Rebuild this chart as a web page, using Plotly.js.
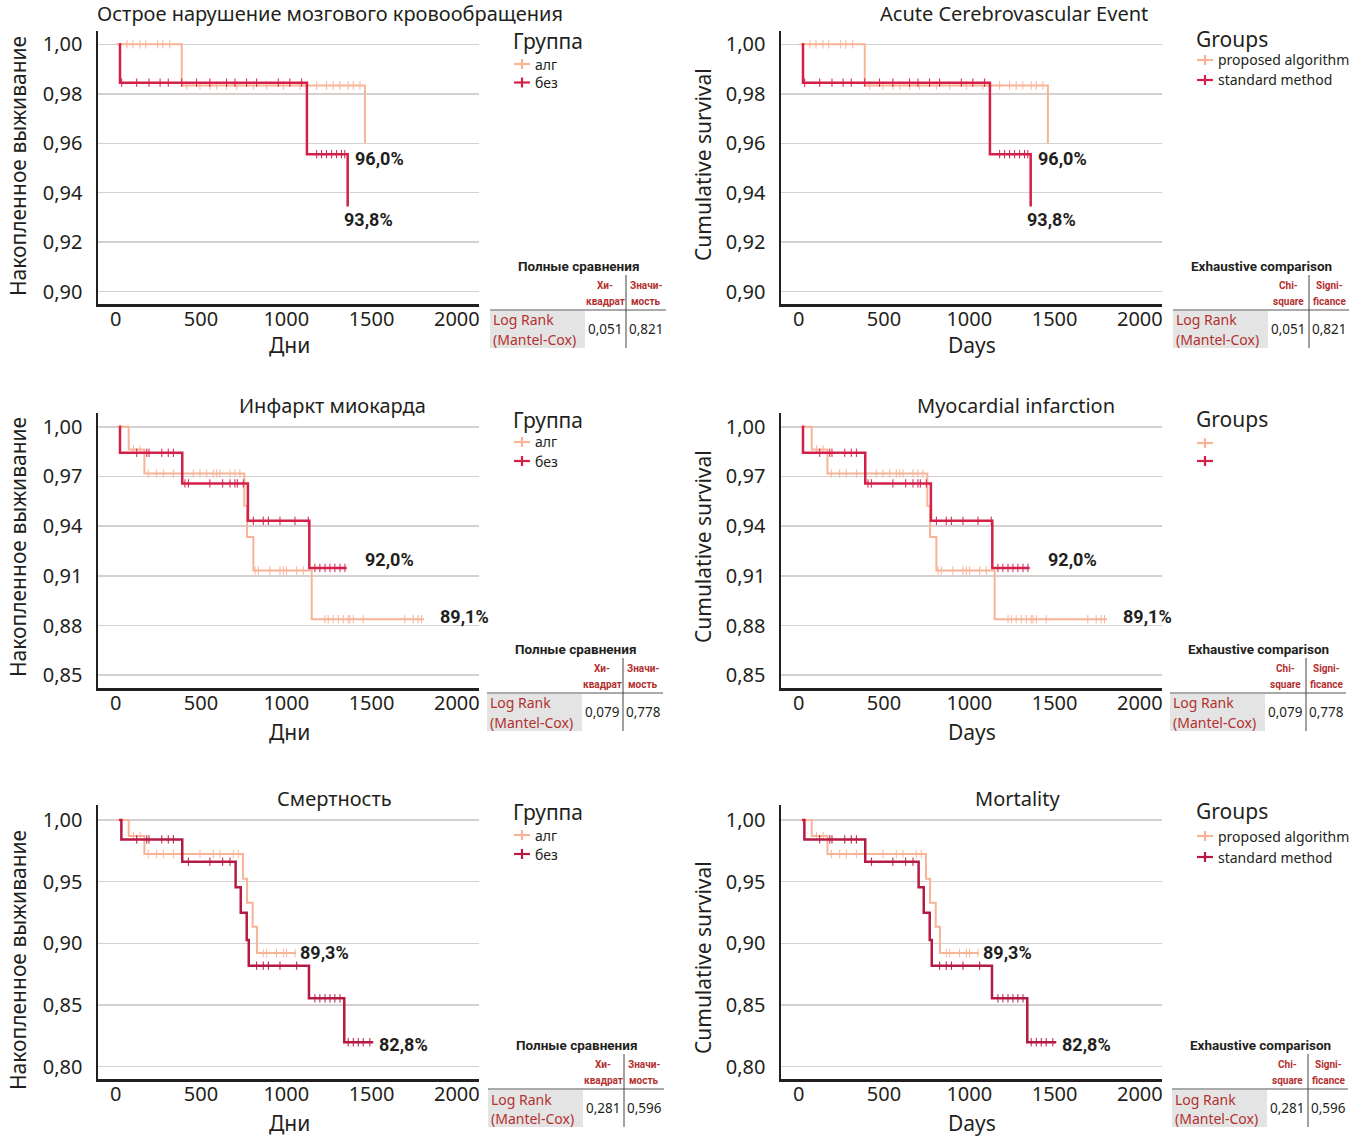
<!DOCTYPE html>
<html><head><meta charset="utf-8">
<script src="https://cdn.plot.ly/plotly-3.0.1.min.js"></script>
<style>html,body{margin:0;padding:0;background:#fff}</style>
</head><body><div id="chart" style="width:1369px;height:1137px"></div>
<script>
// ---------------- Data ----------------
const xTickVals = [0, 500, 1000, 1500, 2000];
const titlesRu = ["Острое нарушение мозгового кровообращения", "Инфаркт миокарда", "Смертность"];
const titlesEn = ["Acute Cerebrovascular Event", "Myocardial infarction", "Mortality"];
const yTitleRu = "Накопленное выживание", yTitleEn = "Cumulative survival";
const xTitleRu = "Дни", xTitleEn = "Days";
const groupTitleRu = "Группа", groupTitleEn = "Groups";
const groupNamesRu = ["алг", "без"];
const groupNamesEn = ["proposed algorithm", "standard method"];
const tableTitleRu = "Полные сравнения", tableTitleEn = "Exhaustive comparison";
const tableHeadRu = [["Хи-", "квадрат"], ["Значи-", "мость"]];
const tableHeadEn = [["Chi-", "square"], ["Signi-", "ficance"]];
const testName = ["Log Rank", "(Mantel-Cox)"];
const chiSquare = ["0,051", "0,079", "0,281"];
const significance = ["0,821", "0,778", "0,596"];

// Acute cerebrovascular event
const aceAlgTimes = [5, 387, 1461];
const aceAlgSurv = [1.000, 0.9834, 0.960];
const aceAlgEnd = 1461;
const aceAlgCensor = [66, 101, 142, 176, 246, 276, 317, 416, 494, 552, 592, 650, 709, 807, 885, 983, 1080, 1178, 1236, 1275, 1314, 1363, 1393, 1432];
const aceStdTimes = [20, 25, 1121, 1360];
const aceStdSurv = [1.000, 0.9845, 0.9556, 0.9344];
const aceStdEnd = 1360;
const aceStdCensor = [35, 123, 195, 260, 308, 387, 474, 552, 650, 699, 767, 826, 953, 1021, 1090, 1178, 1207, 1236, 1266, 1295, 1324, 1343];
const aceLabels = ["96,0%", "93,8%"];

// Myocardial infarction
const miAlgTimes = [10, 76, 168, 754, 770, 807, 1149];
const miAlgSurv = [1.000, 0.9863, 0.9718, 0.9523, 0.9335, 0.9132, 0.8838];
const miAlgEnd = 1807;
const miAlgCensor = [104, 143, 191, 240, 279, 338, 387, 455, 494, 533, 572, 592, 611, 670, 699, 728, 817, 836, 904, 963, 983, 1002, 1061, 1100, 1227, 1246, 1275, 1305, 1334, 1363, 1373, 1393, 1451, 1695, 1744, 1773, 1793];
const miStdTimes = [20, 25, 390, 775, 1135];
const miStdSurv = [1.000, 0.9843, 0.9658, 0.9432, 0.9148];
const miStdEnd = 1354;
const miStdCensor = [123, 182, 195, 270, 308, 338, 406, 426, 552, 627, 670, 699, 713, 748, 807, 865, 895, 963, 1051, 1129, 1168, 1197, 1227, 1256, 1285, 1315, 1344];
const miLabels = ["92,0%", "89,1%"];

// Mortality
const mortAlgTimes = [10, 76, 168, 746, 770, 803, 828];
const mortAlgSurv = [1.000, 0.987, 0.9724, 0.9524, 0.933, 0.9135, 0.8922];
const mortAlgEnd = 1057;
const mortAlgCensor = [104, 143, 191, 240, 279, 338, 387, 494, 572, 611, 689, 719, 865, 885, 943, 983, 1002, 1051];
const mortStdTimes = [20, 33, 390, 703, 733, 768, 780, 1133, 1340];
const mortStdSurv = [1.000, 0.9843, 0.9662, 0.9454, 0.9249, 0.9027, 0.8819, 0.8554, 0.8198];
const mortStdEnd = 1510;
const mortStdCensor = [123, 182, 195, 270, 308, 338, 426, 552, 627, 670, 826, 865, 895, 963, 1061, 1168, 1197, 1227, 1256, 1285, 1315, 1363, 1393, 1422, 1451, 1490];
const mortLabels = ["89,3%", "82,8%"];

const yTickVals = [
  [0.90, 0.92, 0.94, 0.96, 0.98, 1.00],
  [0.85, 0.88, 0.91, 0.94, 0.97, 1.00],
  [0.80, 0.85, 0.90, 0.95, 1.00]
];

// ---------------- Styling / layout ----------------
const W = 1369, H = 1137;
const px = x => x / W;
const py = y => 1 - y / H;
const FONT = "Noto Sans, Open Sans, sans-serif";
const BOLD = "Roboto, Noto Sans, sans-serif";
const cAlg = "#f8b497";
const cStd = ["#d42049", "#d42049", "#b61a42"];
const INK = "#231f20";
const TRED = "#b3302f";

const rows = [
  {top: 31, bottom: 304, range: [0.895, 1.0054], data: {
    alg: [aceAlgTimes, aceAlgSurv, aceAlgEnd, aceAlgCensor],
    std: [aceStdTimes, aceStdSurv, aceStdEnd, aceStdCensor]},
    labels: aceLabels, labelPos: [[1391, 0.954], [1326, 0.929]],
    titleY: 14, titleX: [330, 1014], yTitleY: [166, 165], xTitleY: 345,
    legTitleY: [41, 39], legItemY: [[64, 82.5], [60, 80]],
    tableY: 266, tableX: [490, 1173]},
  {top: 413, bottom: 688, range: [0.8423, 1.0083], data: {
    alg: [miAlgTimes, miAlgSurv, miAlgEnd, miAlgCensor],
    std: [miStdTimes, miStdSurv, miStdEnd, miStdCensor]},
    labels: miLabels, labelPos: [[1450, 0.920], [1889, 0.8856]],
    titleY: 405, titleX: [332, 1016], yTitleY: [547, 547], xTitleY: 732,
    legTitleY: [420, 419], legItemY: [[442, 461], [443, 461]],
    tableY: 649, tableX: [487, 1170]},
  {top: 805, bottom: 1079, range: [0.790, 1.0122], data: {
    alg: [mortAlgTimes, mortAlgSurv, mortAlgEnd, mortAlgCensor],
    std: [mortStdTimes, mortStdSurv, mortStdEnd, mortStdCensor]},
    labels: mortLabels, labelPos: [[1069, 0.8922], [1532, 0.8176]],
    titleY: 798, titleX: [334, 1018], yTitleY: [960, 958], xTitleY: 1123,
    legTitleY: [812, 811], legItemY: [[835, 854], [836, 857]],
    tableY: 1045, tableX: [488, 1172]}
];
const sides = [{x0: 98, x1: 479, legX: 512}, {x0: 781, x1: 1162, legX: 1195}];

function survAt(times, surv, t) {
  let s = surv[0];
  for (let i = 0; i < times.length; i++) if (times[i] <= t) s = surv[i];
  return s;
}

const traces = [];
const layout = {
  width: W, height: H, margin: {l: 0, r: 0, t: 0, b: 0},
  paper_bgcolor: "#fff", plot_bgcolor: "rgba(0,0,0,0)",
  separators: ",.", showlegend: false,
  font: {family: FONT, color: INK},
  annotations: [], shapes: []
};

function ann(text, x, y, opts) {
  layout.annotations.push(Object.assign({
    text: text, x: px(x), y: py(y), xref: "paper", yref: "paper",
    showarrow: false, xanchor: "center", yanchor: "middle", borderpad: 0,
    font: {family: FONT, size: 15, color: INK}
  }, opts || {}));
}
function pline(x0, y0, x1, y1, color, w) {
  layout.shapes.push({type: "line", xref: "paper", yref: "paper",
    x0: px(x0), x1: px(x1), y0: py(y0), y1: py(y1), line: {color: color, width: w}});
}

let p = 0;
rows.forEach((row, r) => {
  sides.forEach((side, s) => {
    p++;
    const xa = "x" + (p === 1 ? "" : p), ya = "y" + (p === 1 ? "" : p);
    const xkey = "xaxis" + (p === 1 ? "" : p), ykey = "yaxis" + (p === 1 ? "" : p);
    layout[xkey] = {
      domain: [px(side.x0), px(side.x1)], anchor: ya, range: [-104, 2130],
      tickvals: xTickVals, ticks: "", ticklabelstandoff: -5,
      showline: true, linecolor: INK, linewidth: 2.5, showgrid: false, zeroline: false,
      tickfont: {family: FONT, size: 20, color: INK}, fixedrange: true
    };
    layout[ykey] = {
      domain: [py(row.bottom), py(row.top)], anchor: xa, range: row.range,
      tickvals: yTickVals[r], tickformat: ".2f", ticks: "outside", ticklen: 9,
      tickcolor: "rgba(0,0,0,0)", showline: true, linecolor: INK, linewidth: 2.5,
      showgrid: true, gridcolor: "#d6d1d1", gridwidth: 1.5, zeroline: false,
      tickfont: {family: FONT, size: 20, color: INK}, fixedrange: true
    };
    const groups = [["alg", cAlg, 2], ["std", cStd[r], 2.5]];
    groups.forEach(([key, color, w]) => {
      const [times, surv, end, cens] = row.data[key];
      traces.push({
        type: "scatter", mode: "lines", xaxis: xa, yaxis: ya,
        x: times.concat([end]), y: surv.concat([surv[surv.length - 1]]),
        line: {color: color, width: w, shape: "hv"}, hoverinfo: "skip"
      });
      traces.push({
        type: "scatter", mode: "markers", xaxis: xa, yaxis: ya,
        x: cens, y: cens.map(t => survAt(times, surv, t)),
        marker: {symbol: "line-ns", size: 6, color: color, line: {color: color, width: 1}},
        hoverinfo: "skip"
      });
    });
    // legend (drawn manually)
    const names = s === 0 ? groupNamesRu : (r === 1 ? ["", ""] : groupNamesEn);
    ann(s === 0 ? groupTitleRu : groupTitleEn, side.legX, row.legTitleY[s], {xanchor: "left", font: {family: FONT, size: 21, color: INK}});
    [[cAlg, names[0]], [cStd[r], names[1]]].forEach(([color, name], i) => {
      const yy = row.legItemY[s][i];
      const sx = side.legX + 2;
      pline(sx, yy, sx + 16, yy, color, 2.2);
      pline(sx + 8, yy - 5, sx + 8, yy + 5, color, 2.2);
      if (name) ann(name, sx + 20, yy, {xanchor: "left", font: {family: FONT, size: 14, color: INK}});
    });
    // labels on curves
    row.labels.forEach((lab, i) => {
      layout.annotations.push({
        text: "<b>" + lab + "</b>", x: row.labelPos[i][0], y: row.labelPos[i][1],
        xref: xa, yref: ya, showarrow: false, xanchor: "left", yanchor: "middle",
        font: {family: BOLD, size: 18, color: INK}
      });
    });
    // titles
    ann((s === 0 ? titlesRu : titlesEn)[r], row.titleX[s], row.titleY, {font: {family: FONT, size: 20, color: INK}});
    ann(s === 0 ? yTitleRu : yTitleEn, s === 0 ? 18 : 703, row.yTitleY[s], {textangle: -90, font: {family: FONT, size: 21, color: INK}});
    ann(s === 0 ? xTitleRu : xTitleEn, 289 + (s === 0 ? 0 : 683), row.xTitleY, {font: {family: FONT, size: 21, color: INK}});
    // comparison table
    const x0 = row.tableX[s], yT = row.tableY;
    const head = s === 0 ? tableHeadRu : tableHeadEn;
    layout.shapes.push({type: "rect", xref: "paper", yref: "paper", x0: px(x0), x1: px(x0 + 95), y0: py(yT + 82), y1: py(yT + 45), fillcolor: "#e4e4e4", line: {width: 0}, layer: "below"});
    pline(x0, yT + 44, x0 + 176, yT + 44, "#555", 1);
    pline(x0 + 136, yT + 9, x0 + 136, yT + 82, "#444", 1);
    ann("<b>" + (s === 0 ? tableTitleRu : tableTitleEn) + "</b>", x0 + 88, yT, {font: {family: BOLD, size: 13.5, color: INK}});
    const hf = {family: BOLD, size: 10, color: TRED};
    ann("<b>" + head[0][0] + "</b>", x0 + 115, yT + 19, {font: hf});
    ann("<b>" + head[0][1] + "</b>", x0 + 115, yT + 35, {font: hf});
    ann("<b>" + head[1][0] + "</b>", x0 + 156, yT + 19, {font: hf});
    ann("<b>" + head[1][1] + "</b>", x0 + 156, yT + 35, {font: hf});
    ann(testName[0], x0 + 2, yT + 54, {xanchor: "left", font: {family: FONT, size: 14, color: TRED}});
    ann(testName[1], x0 + 2, yT + 73, {xanchor: "left", font: {family: FONT, size: 14, color: TRED}});
    ann(chiSquare[r], x0 + 115, yT + 63, {font: {family: FONT, size: 13.5, color: INK}});
    ann(significance[r], x0 + 156, yT + 63, {font: {family: FONT, size: 13.5, color: INK}});
  });
});

Plotly.newPlot("chart", traces, layout, {staticPlot: true, displayModeBar: false});
</script>
</body></html>
